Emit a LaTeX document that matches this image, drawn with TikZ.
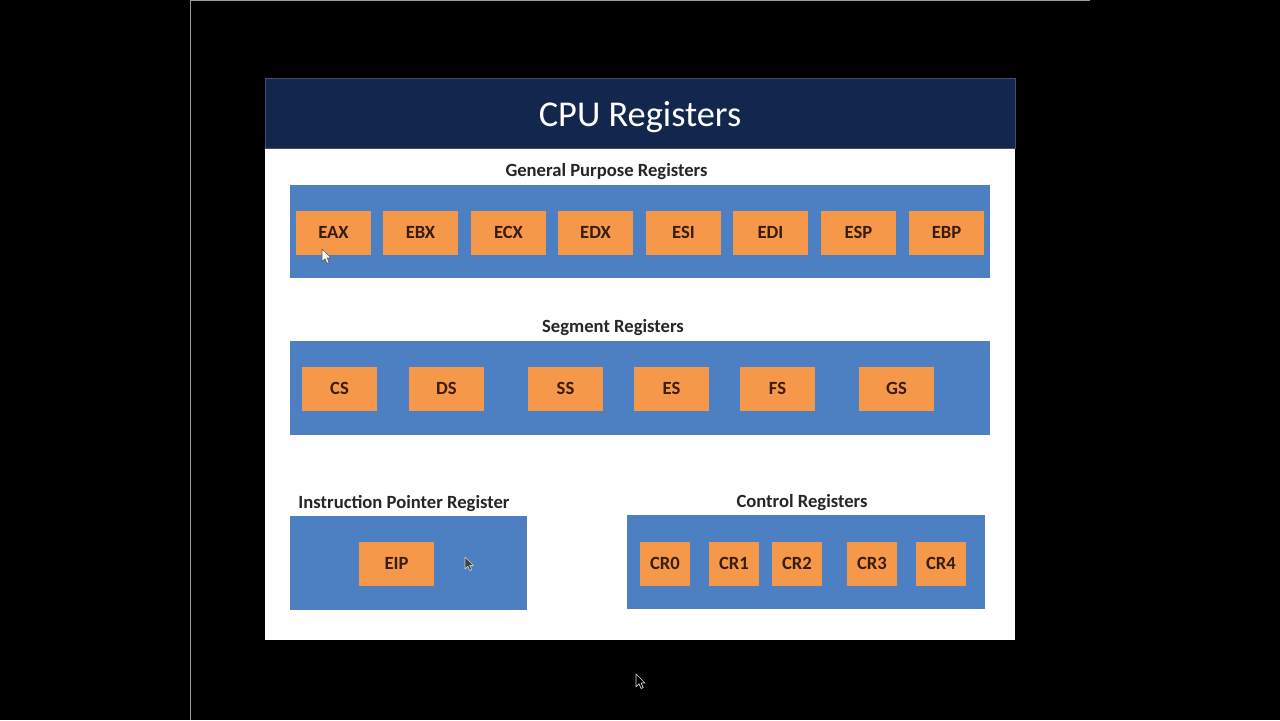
\documentclass[tikz,border=0pt]{standalone}
\usepackage{fontspec}
\setmainfont{Carlito}
\definecolor{navy}{HTML}{13264D}
\definecolor{panelblue}{HTML}{4D80C2}
\definecolor{regorange}{HTML}{F6984A}
\definecolor{regtext}{HTML}{3A1C0A}
\definecolor{labeltext}{HTML}{262626}
\definecolor{framegray}{HTML}{9A9A9A}
\tikzset{
  panel/.style={fill=panelblue, draw=none, inner sep=0pt},
  reg/.style={fill=regorange, draw=none, minimum width=1.5cm, minimum height=0.88cm, inner sep=0pt,
    font=\fontsize{10.6pt}{12pt}\selectfont\bfseries, text=regtext},
  smallreg/.style={reg, minimum width=1.0cm},
  grouplabel/.style={font=\fontsize{10.6pt}{12pt}\selectfont\bfseries, text=labeltext, inner sep=0pt},
  cursor/.pic={\filldraw[line width=0.4pt, line join=round] (0,0) -- (0,15) -- (3.5,11.5) -- (6,17) -- (8.5,16) -- (6,10.5) -- (10.5,10.5) -- cycle;}
}
\begin{document}
\begin{tikzpicture}[x=0.02cm,y=-0.02cm]
\useasboundingbox (0,0) rectangle (1280,720);
\fill[black] (0,0) rectangle (1280,720);
% screen frame
\draw[framegray, line width=0.6pt] (190.5,720) -- (190.5,0.8) -- (1090,0.8);
% slide
\node[fill=white, draw=none, minimum width=15cm, minimum height=11.24cm, inner sep=0pt] (slide) at (640,359) {};
\node[fill=navy, draw=gray!45!navy, line width=0.4pt, minimum width=15cm, minimum height=1.4cm, inner sep=0pt] (titlebar) at (640,113) {};
\node[text=white, font=\fontsize{20.7pt}{24pt}\selectfont, inner sep=0pt] (title) at (640,117) {CPU Registers};

% General purpose
\node[grouplabel] (gplabel) at (606.5,171.5) {General Purpose Registers};
\node[panel, minimum width=14cm, minimum height=1.86cm] (gp) at (640,231.5) {};
\node[reg] (eax) at (333.5,232.5) {EAX};
\node[reg] (ebx) at (420.5,232.5) {EBX};
\node[reg] (ecx) at (508.5,232.5) {ECX};
\node[reg] (edx) at (595.5,232.5) {EDX};
\node[reg] (esi) at (683.5,232.5) {ESI};
\node[reg] (edi) at (770.5,232.5) {EDI};
\node[reg] (esp) at (858.5,232.5) {ESP};
\node[reg] (ebp) at (946.5,232.5) {EBP};

% Segment
\node[grouplabel] (seglabel) at (613,327.5) {Segment Registers};
\node[panel, minimum width=14cm, minimum height=1.88cm] (seg) at (640,388) {};
\node[reg] (cs) at (339.5,388.5) {CS};
\node[reg] (ds) at (446.5,388.5) {DS};
\node[reg] (ss) at (565.5,388.5) {SS};
\node[reg] (es) at (671.5,388.5) {ES};
\node[reg] (fs) at (777.5,388.5) {FS};
\node[reg] (gs) at (896.5,388.5) {GS};

% Instruction pointer
\node[grouplabel] (iplabel) at (404,503.5) {Instruction Pointer Register};
\node[panel, minimum width=4.74cm, minimum height=1.88cm] (ip) at (408.5,563) {};
\node[reg] (eip) at (396.5,563.5) {EIP};

% Control
\node[grouplabel] (crlabel) at (802,502.5) {Control Registers};
\node[panel, minimum width=7.16cm, minimum height=1.88cm] (cr) at (806,562) {};
\node[smallreg] (cr0) at (665,563.5) {CR0};
\node[smallreg] (cr1) at (734,563.5) {CR1};
\node[smallreg] (cr2) at (797,563.5) {CR2};
\node[smallreg] (cr3) at (872,563.5) {CR3};
\node[smallreg] (cr4) at (941,563.5) {CR4};

% mouse pointers
\pic[fill=white, draw=gray!70!black, scale=0.85] at (322,249) {cursor};
\pic[fill=black!75, draw=gray!40, scale=0.8] at (465,557) {cursor};
\pic[fill=black, draw=white!85!black, scale=0.85] at (636,674) {cursor};
\end{tikzpicture}
\end{document}
